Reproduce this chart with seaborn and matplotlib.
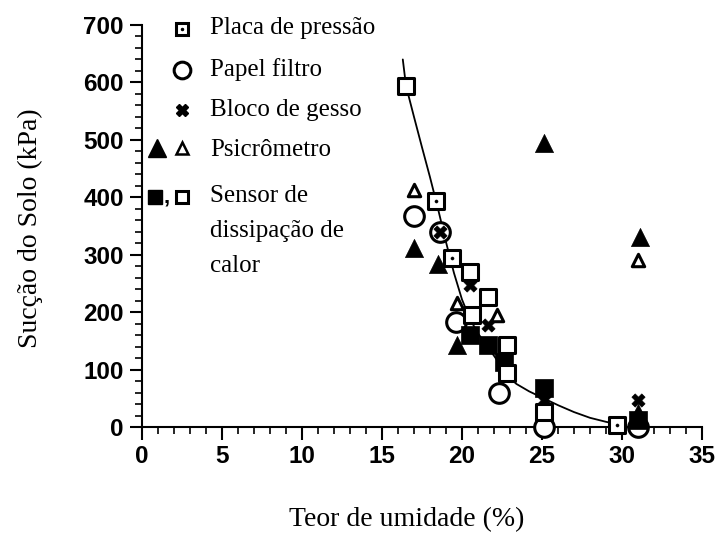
import matplotlib
matplotlib.use("Agg")
import matplotlib.pyplot as plt
from matplotlib.ticker import MultipleLocator
import seaborn as sns

# Measured points (moisture content %, suction kPa) per method
placa_x = [18.4, 19.4, 29.7]
placa_y = [394, 294, 4]

papel_x = [17.0, 18.6, 19.6, 22.3, 25.1, 31.0]
papel_y = [367, 340, 183, 59, 0, 0]

gesso_x = [18.6, 20.5, 21.6, 25.1, 31.0]
gesso_y = [340, 247, 178, 47, 47]

psic_cheio_x = [17.0, 18.5, 19.7, 25.1, 31.1, 31.0]
psic_cheio_y = [312, 284, 143, 494, 331, 25]

psic_vazio_x = [17.0, 19.7, 22.2, 31.0]
psic_vazio_y = [413, 216, 195, 291]

sensor_cheio_x = [20.5, 21.6, 22.6, 25.1, 31.0]
sensor_cheio_y = [160, 143, 113, 68, 12]

sensor_vazio_x = [16.5, 20.5, 21.6, 20.6, 22.8, 22.8, 25.1]
sensor_vazio_y = [594, 270, 226, 195, 143, 94, 26]

# Fitted retention curve
curva_x = [16.3, 16.5, 17.0, 17.5, 18.0, 18.5, 19.0, 19.5, 20.0, 20.5,
           21.0, 21.6, 22.3, 22.8, 23.4, 24.2, 25.1, 26.0, 27.0, 28.0,
           29.0, 29.7]
curva_y = [640, 594, 540, 487, 435, 380, 322, 268, 222, 188,
           163, 140, 112, 90, 75, 62, 50, 38, 26, 16,
           9, 5]

x_ticks = [0, 5, 10, 15, 20, 25, 30, 35]
y_ticks = [0, 100, 200, 300, 400, 500, 600, 700]

legend_labels = ["Placa de pressão", "Papel filtro", "Bloco de gesso",
                 "Psicrômetro", "Sensor de\ndissipação de\ncalor"]

sns.set_theme(style="ticks")
plt.rcParams["font.family"] = ["Liberation Sans", "DejaVu Sans"]

fig = plt.figure(figsize=(7.17, 5.48), dpi=100)
ax = fig.add_axes([142 / 717, 1 - 427 / 548, 560 / 717, 402 / 548])

k = "black"
common = dict(ax=ax, clip_on=False, zorder=3, legend=False)

sns.lineplot(x=curva_x, y=curva_y, sort=False, color=k, lw=1.3, ax=ax,
             zorder=2)

sns.scatterplot(x=papel_x, y=papel_y, marker="o", s=200, facecolor="white",
                edgecolor=k, linewidth=2.2, **common)
sns.scatterplot(x=gesso_x, y=gesso_y, marker="X", s=90, color=k,
                edgecolor=k, linewidth=0.5, **common)
sns.scatterplot(x=psic_cheio_x, y=psic_cheio_y, marker="^", s=170, color=k,
                edgecolor=k, linewidth=0.5, **common)
sns.scatterplot(x=psic_vazio_x, y=psic_vazio_y, marker="^", s=80,
                facecolor="white", edgecolor=k, linewidth=2.2, **common)
sns.scatterplot(x=sensor_cheio_x, y=sensor_cheio_y, marker="s", s=150,
                color=k, edgecolor=k, linewidth=0.5, **common)
sns.scatterplot(x=sensor_vazio_x, y=sensor_vazio_y, marker="s", s=120,
                facecolor="white", edgecolor=k, linewidth=2.2, **common)
sns.scatterplot(x=placa_x, y=placa_y, marker="s", s=120, facecolor="white",
                edgecolor=k, linewidth=2.2, **common)
sns.scatterplot(x=placa_x, y=placa_y, marker=".", s=20, color=k,
                edgecolor=k, **common)

ax.set_xlim(0, 35)
ax.set_ylim(0, 700)
ax.set_xticks(x_ticks)
ax.set_yticks(y_ticks)
ax.xaxis.set_minor_locator(MultipleLocator(1))
ax.yaxis.set_minor_locator(MultipleLocator(20))
ax.tick_params(axis="both", which="major", direction="out", length=9,
               width=1.5, color=k, labelsize=17.5, pad=4)
ax.tick_params(axis="both", which="minor", direction="out", length=5,
               width=1.2, color=k)
for lab in ax.get_xticklabels() + ax.get_yticklabels():
    lab.set_fontweight("bold")
    lab.set_color(k)
sns.despine(ax=ax)
for s in ("left", "bottom"):
    ax.spines[s].set_linewidth(1.5)
    ax.spines[s].set_color(k)
ax.grid(False)

serif = ["Liberation Serif", "DejaVu Serif"]
ax.set_xlabel("Teor de umidade (%)", family=serif, fontsize=20, color=k)
ax.xaxis.set_label_coords((407 - 142) / 560, -(520 - 427) / 402)
ax.xaxis.label.set_va("center")
ax.set_ylabel("Sucção do Solo (kPa)", family=serif, fontsize=20, color=k)
ax.yaxis.set_label_coords((30 - 142) / 560, (427 - 228) / 402)
ax.yaxis.label.set_va("center")


# Hand-placed key, positions given in figure pixels
def fx(px):
    return (px - 142) / 560


def fy(py):
    return (427 - py) / 402


T = ax.transAxes
key = dict(transform=T, clip_on=False, zorder=4, color=k, ls="none")
ax.plot(fx(182), fy(29), marker="s", ms=9, mfc="white", mew=2.2, **key)
ax.plot(fx(182), fy(29), marker=".", ms=3, **key)
ax.plot(fx(182), fy(70), marker="o", ms=12, mfc="white", mew=2.2, **key)
ax.plot(fx(182), fy(110), marker="X", ms=9, **key)
ax.plot(fx(157), fy(148), marker="^", ms=13, **key)
ax.plot(fx(182), fy(148), marker="^", ms=8, mfc="white", mew=1.8, **key)
ax.plot(fx(155), fy(197), marker="s", ms=10, **key)
ax.plot(fx(182), fy(197), marker="s", ms=9, mfc="white", mew=2.2, **key)
ax.text(fx(167), fy(197), ",", transform=T, fontsize=16, fontweight="bold",
        ha="center", va="center", color=k)

rows_y = [28, 70, 110, 150]
for lab, ry in zip(legend_labels[:4], rows_y):
    ax.text(fx(210), fy(ry), lab, transform=T, family=serif, fontsize=18,
            ha="left", va="center", color=k)
for i, line in enumerate(legend_labels[4].split("\n")):
    ax.text(fx(210), fy(196 + 35 * i), line, transform=T, family=serif,
            fontsize=18, ha="left", va="center", color=k)

fig.savefig("out.png", dpi=100)
